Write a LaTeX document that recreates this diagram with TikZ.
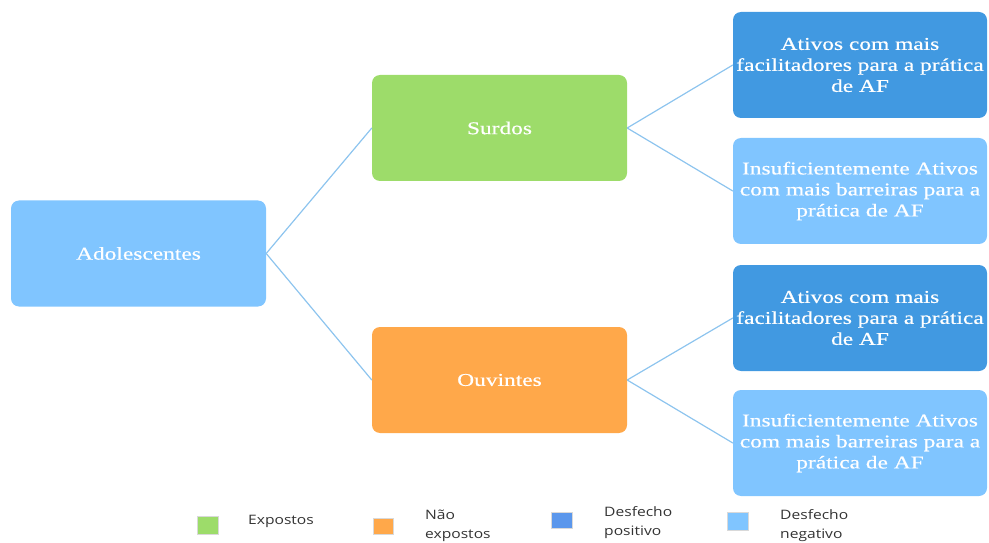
\documentclass[tikz,border=0pt]{standalone}
\usepackage{fontspec}
\setmainfont[FakeStretch=1.3,FakeBold=0.5]{Liberation Serif}
\newfontfamily\legfont[FakeStretch=1.2]{Open Sans}
\definecolor{cgreen}{HTML}{9DDC6A}
\definecolor{corange}{HTML}{FFA84A}
\definecolor{cdark}{HTML}{4199E1}
\definecolor{clight}{HTML}{80C5FF}
\definecolor{cline}{HTML}{8DC4EE}
\definecolor{clegblue}{HTML}{5B97EC}
\tikzset{
  box/.style={rounded corners=8pt, minimum width=255pt, minimum height=106pt, draw=none,
    text=white, align=center, font=\fontsize{18}{21}\selectfont, inner sep=2pt},
  conn/.style={draw=cline, line width=1.2pt},
  legsq/.style={minimum width=21pt, minimum height=18pt, inner sep=0pt, draw=white!85!black, line width=0.4pt},
  legtx/.style={font=\legfont\fontsize{13}{19}\selectfont, text=black!80, align=left, anchor=west, inner sep=0pt}
}
\begin{document}
\begin{tikzpicture}[x=1pt,y=1pt]
\useasboundingbox (0,0) rectangle (989,542);
\node[box, fill=clight] (ado) at (138.5,288.5) {Adolescentes};
\node[box, fill=cgreen] (sur) at (499.5,414) {Surdos};
\node[box, fill=corange] (ouv) at (499.5,162) {Ouvintes};
\node[box, fill=cdark, minimum width=254pt] (r1) at (860,477) {Ativos com mais\\facilitadores para a prática\\de AF};
\node[box, fill=clight, minimum width=254pt] (r2) at (860,351) {Insuficientemente Ativos\\com mais barreiras para a\\prática de AF};
\node[box, fill=cdark, minimum width=254pt] (r3) at (860,224) {Ativos com mais\\facilitadores para a prática\\de AF};
\node[box, fill=clight, minimum width=254pt] (r4) at (860,99) {Insuficientemente Ativos\\com mais barreiras para a\\prática de AF};
\draw[conn] (ado.east) -- (sur.west);
\draw[conn] (ado.east) -- (ouv.west);
\draw[conn] (sur.east) -- (r1.west);
\draw[conn] (sur.east) -- (r2.west);
\draw[conn] (ouv.east) -- (r3.west);
\draw[conn] (ouv.east) -- (r4.west);
% legend
\node[legsq, fill=cgreen] (l1) at (207.5,17) {};
\node[legtx] (t1) at (248,21) {Expostos};
\node[legsq, fill=corange, minimum width=20pt, minimum height=16pt] (l2) at (383,16) {};
\node[legtx] (t2) at (425,16.5) {Não\\expostos};
\node[legsq, fill=clegblue, minimum height=16pt] (l3) at (561.5,22) {};
\node[legtx] (t3) at (604,19) {Desfecho\\positivo};
\node[legsq, fill=clight] (l4) at (737.5,21) {};
\node[legtx] (t4) at (780,16) {Desfecho\\negativo};
\end{tikzpicture}
\end{document}
